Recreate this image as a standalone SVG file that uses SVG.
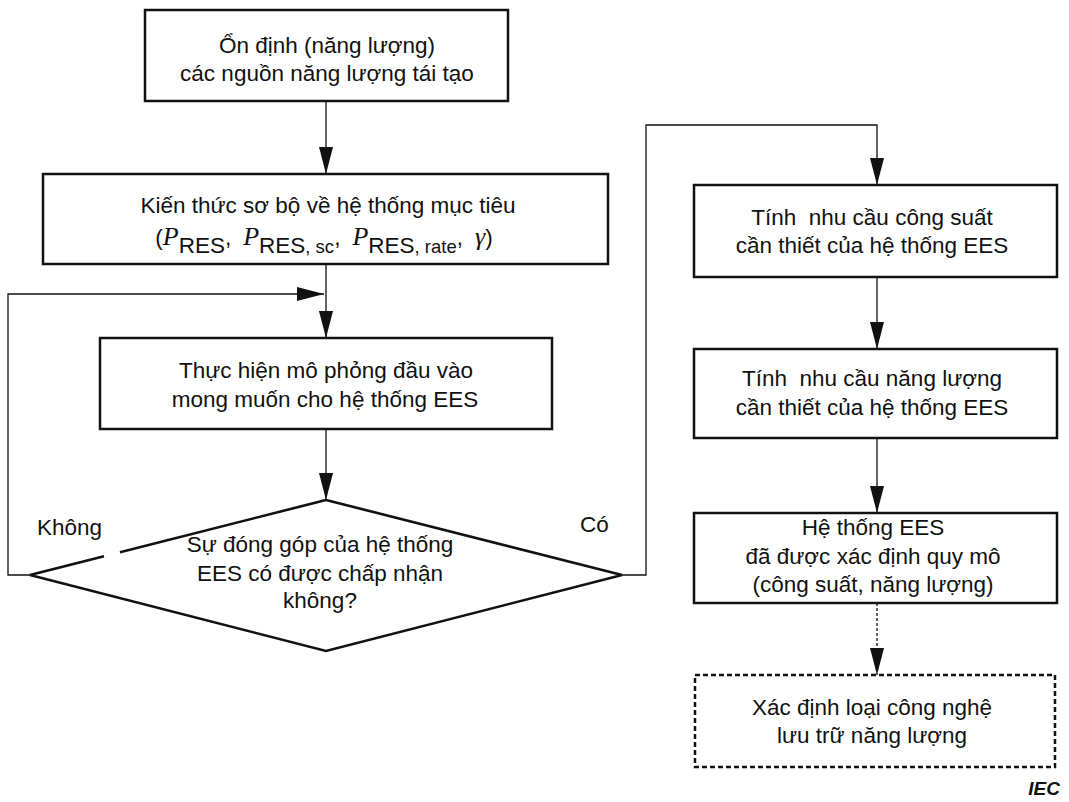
<svg xmlns="http://www.w3.org/2000/svg" width="1069" height="802" viewBox="0 0 1069 802">
  <style>
    .box { fill: #fff; stroke: #111; stroke-width: 2.5; }
    .dashed { stroke-dasharray: 5 3; }
    .edge { fill: none; stroke: #111; stroke-width: 1.3; }
    .dotted { stroke-dasharray: 3 2; }
    .lbl { font-family: "Liberation Sans", Arial, sans-serif; font-size: 22.5px; fill: #111; text-anchor: middle; }
    .side { font-family: "Liberation Sans", Arial, sans-serif; font-size: 22.5px; fill: #111; }
    .sym { font-family: "Liberation Serif", "Times New Roman", serif; font-style: italic; font-size: 26px; }
    .sub { font-size: 18.5px; }
    .iec { font-family: "Liberation Sans", Arial, sans-serif; font-size: 19px; font-weight: bold; font-style: italic; fill: #111; text-anchor: end; }
  </style>
  <defs>
    <marker id="head" markerUnits="userSpaceOnUse" markerWidth="27" markerHeight="14" refX="27" refY="7" orient="auto">
      <path d="M0,0 L27,7 L0,14 Z" fill="#111"/>
    </marker>
  </defs>

  <rect width="1069" height="802" fill="#fff"/>

  <!-- connectors -->
  <g id="connectors">
    <line class="edge" x1="326" y1="101" x2="326" y2="174" marker-end="url(#head)"/>
    <line class="edge" x1="326" y1="264" x2="326" y2="338" marker-end="url(#head)"/>
    <path class="edge" d="M30,575 H8 V294 H324" marker-end="url(#head)"/>
    <line class="edge" x1="326" y1="429" x2="326" y2="500" marker-end="url(#head)"/>
    <path class="edge" d="M622,575 H646 V125 H877 V185" marker-end="url(#head)"/>
    <line class="edge" x1="877" y1="277" x2="877" y2="349" marker-end="url(#head)"/>
    <line class="edge" x1="877" y1="438" x2="877" y2="513" marker-end="url(#head)"/>
    <line class="edge dotted" x1="877" y1="603" x2="877" y2="675" marker-end="url(#head)"/>
  </g>

  <!-- renewable smoothing -->
  <g id="n-smoothing">
    <rect class="box" x="145" y="10" width="363" height="91"/>
    <text class="lbl" x="327" y="53">Ổn định (năng lượng)</text>
    <text class="lbl" x="327" y="81">các nguồn năng lượng tái tạo</text>
  </g>

  <!-- target system knowledge -->
  <g id="n-knowledge">
    <rect class="box" x="43" y="174" width="565" height="90"/>
    <text class="lbl" x="328" y="213">Kiến thức sơ bộ về hệ thống mục tiêu</text>
    <text class="lbl" x="324" y="245">(<tspan class="sym">P</tspan><tspan dy="8">RES</tspan><tspan dy="-8">,</tspan><tspan class="sym" dx="12">P</tspan><tspan dy="8">RES</tspan><tspan class="sub">, sc</tspan><tspan dy="-8">,</tspan><tspan class="sym" dx="12">P</tspan><tspan dy="8">RES</tspan><tspan class="sub">, rate</tspan><tspan dy="-8">,</tspan><tspan class="sym" dx="12">γ</tspan>)</text>
  </g>

  <!-- simulation -->
  <g id="n-simulation">
    <rect class="box" x="100" y="338" width="452" height="91"/>
    <text class="lbl" x="326" y="378">Thực hiện mô phỏng đầu vào</text>
    <text class="lbl" x="325" y="407">mong muốn cho hệ thống EES</text>
  </g>

  <!-- decision -->
  <g id="n-decision">
    <path d="M326,500 L622,575 L326,651 L30,575 L104,556.2 M120,552.2 L326,500" fill="none" stroke="#111" stroke-width="2.6" stroke-linejoin="miter"/>
    <text class="lbl" x="320" y="552">Sự đóng góp của hệ thống</text>
    <text class="lbl" x="320" y="581">EES có được chấp nhận</text>
    <text class="lbl" x="320" y="608">không?</text>
    <text class="side" x="37" y="535">Không</text>
    <text class="side" x="580" y="532">Có</text>
  </g>

  <!-- power demand -->
  <g id="n-power">
    <rect class="box" x="694" y="185" width="363" height="92"/>
    <text class="lbl" x="872" y="225" xml:space="preserve">Tính  nhu cầu công suất</text>
    <text class="lbl" x="872" y="253">cần thiết của hệ thống EES</text>
  </g>

  <!-- energy demand -->
  <g id="n-energy">
    <rect class="box" x="694" y="349" width="363" height="89"/>
    <text class="lbl" x="872" y="386" xml:space="preserve">Tính  nhu cầu năng lượng</text>
    <text class="lbl" x="872" y="415">cần thiết của hệ thống EES</text>
  </g>

  <!-- sized system -->
  <g id="n-sized">
    <rect class="box" x="694" y="513" width="363" height="90"/>
    <text class="lbl" x="873" y="535">Hệ thống EES</text>
    <text class="lbl" x="873" y="564">đã được xác định quy mô</text>
    <text class="lbl" x="873" y="592">(công suất, năng lượng)</text>
  </g>

  <!-- storage technology -->
  <g id="n-technology">
    <rect class="box dashed" x="695" y="675" width="360" height="92"/>
    <text class="lbl" x="872" y="715">Xác định loại công nghệ</text>
    <text class="lbl" x="872" y="743">lưu trữ năng lượng</text>
  </g>

  <text class="iec" x="1060" y="795">IEC</text>
</svg>
